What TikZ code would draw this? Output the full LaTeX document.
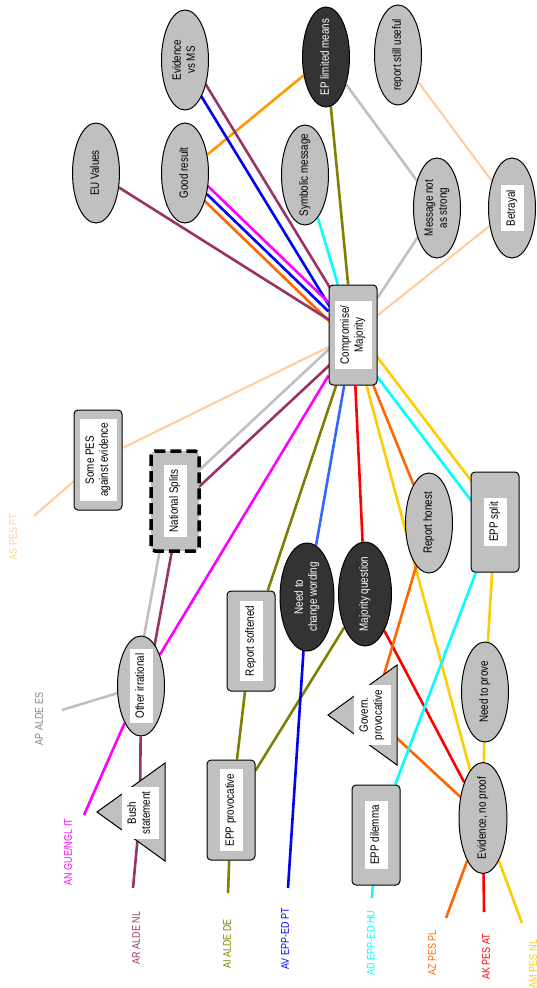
\documentclass[tikz,border=0pt]{standalone}
\usepackage{fontspec}
\setmainfont{Liberation Sans}[FakeStretch=0.82]
\usetikzlibrary{shapes.geometric, calc, backgrounds}
\definecolor{silver}{HTML}{C0C0C0}
\definecolor{dark}{HTML}{333333}
\definecolor{purp}{HTML}{993366}
\definecolor{olv}{HTML}{808000}
\definecolor{royal}{HTML}{3366FF}
\definecolor{org}{HTML}{FF6600}
\definecolor{org2}{HTML}{FF9900}
\definecolor{gold}{HTML}{FFCC00}
\definecolor{peach}{HTML}{FFCC99}
\definecolor{mag}{HTML}{FF00FF}
\definecolor{cyn}{HTML}{00FFFF}
\definecolor{blu}{HTML}{0000FF}
\definecolor{rd}{HTML}{FF0000}
\definecolor{labgray}{HTML}{808080}
\setlength{\fboxsep}{4.5pt}
\newcommand{\tx}[1]{\makebox[0pt]{\begin{tabular}{@{}c@{}}#1\end{tabular}}}
\newcommand{\wb}[1]{\makebox[0pt]{\colorbox{white}{\begin{tabular}{@{}c@{}}#1\end{tabular}}}}
\begin{document}
\begin{tikzpicture}[x=1pt, y=-1pt, font=\fontsize{12}{14}\selectfont,
  ell/.style = {draw, ellipse, fill=silver, line width=1pt, inner sep=0, rotate=90, minimum width=100, minimum height=47},
  dell/.style = {ell, fill=dark, text=white},
  box/.style = {draw, rectangle, rounded corners=4pt, fill=silver, line width=1pt, inner sep=0, rotate=90, minimum width=100, minimum height=48},
  tri/.style = {draw, fill=silver, line width=1pt},
  tritext/.style = {rotate=90, inner sep=0},
  lab/.style = {rotate=90, font=\fontsize{11}{13}\selectfont},
  link/.style = {line width=2.6pt}]
\useasboundingbox (0,0) rectangle (537,988);
\node[ell] (evms) at (185,60) {\tx{Evidence\\vs MS}};
\node[ell] (good) at (185,173) {\tx{Good result}};
\node[ell] (euv) at (96,173) {\tx{EU Values}};
\node[dell] (lim) at (326,57) {\tx{EP limited means}};
\node[ell] (use) at (398,55) {\tx{report still useful}};
\node[ell] (sym) at (305,175) {\tx{Symbolic message}};
\node[ell] (msg) at (437,208) {\tx{Message not\\as strong}};
\node[ell] (bet) at (512,208) {\wb{Betrayal}};
\node[box] (comp) at (353,335) {\wb{Compromise/\\Majority}};
\node[box] (pes) at (98,460) {\wb{Some PES\\against evidence}};
\node[box, line width=3.5pt, dash pattern=on 11pt off 5pt] (nat) at (175,501) {\wb{National Splits}};
\node[box] (soft) at (251,641) {\wb{Report softened}};
\node[ell] (oi) at (141,686) {\wb{Other irrational}};
\node[dell, minimum width=108, minimum height=54] (chg) at (307,597) {\tx{Need to\\change wording}};
\node[dell, minimum width=104, minimum height=53] (maj) at (365,594) {\tx{Majority question}};
\node[ell] (hon) at (429,523) {\tx{Report honest}};
\node[box] (split) at (495,522) {\wb{EPP split}};
\node[ell] (prove) at (485,692) {\tx{Need to prove}};
\node[ell, minimum width=111, minimum height=48] (nop) at (483,818) {\tx{Evidence, no proof}};
\node[box] (prov) at (231,810) {\wb{EPP provocative}};
\node[box] (dil) at (376,835) {\wb{EPP dilemma}};
\draw[tri] (97,812) -- (165,763) -- (165,861) -- cycle;
\node[tritext] (bush) at (140,813) {\wb{Bush\\statement}};
\draw[tri] (328,715) -- (397,665) -- (397,765) -- cycle;
\node[tritext] (gov) at (372,715) {\wb{Govern.\\provocative}};
\node[lab, text=peach] (tas) at (13,537) {AS PES PT};
\node[lab, text=labgray] (tap) at (39,719) {AP ALDE ES};
\node[lab, text=mag] (tan) at (68,852) {AN GUE/NGL IT};
\node[lab, text=purp] (tar) at (136,938) {AR ALDE NL};
\node[lab, text=olv] (tai) at (227,944) {AI ALDE DE};
\node[lab, text=blu] (tav) at (285,939) {AV EPP-ED PT};
\node[lab, text=cyn] (tad) at (371,943) {AD EPP-ED HU};
\node[lab, text=org] (taz) at (432,953) {AZ PES PL};
\node[lab, text=rd] (tak) at (486,957) {AK PES AT};
\node[lab, text=gold] (tam) at (533,964) {AM PES NL};
\coordinate (as) at (34,516);
\coordinate (ap) at (62,710);
\coordinate (an) at (84,815);
\coordinate (ar) at (133,888);
\coordinate (ai) at (228,893);
\coordinate (av) at (288,888);
\coordinate (ad) at (372,898);
\coordinate (az) at (446,918);
\coordinate (ak) at (484,912);
\coordinate (am) at (522,923);
\begin{scope}[on background layer]
\begin{scope}[link]
\draw[org2] (lim) -- (good);
\draw[silver] (lim) -- (msg) -- (comp);
\draw[olv] (lim) -- (comp);
\draw[peach, line width=2pt] (use) -- (bet) -- (comp) -- (pes) -- (as);
\draw[cyn] (sym) -- (comp);
\draw[purp] ($(evms)!5pt!90:(comp)$) -- ($(comp)!5pt!-90:(evms)$);
\draw[blu] ($(evms)!5pt!-90:(comp)$) -- ($(comp)!5pt!90:(evms)$);
\draw[mag] ($(good)!6.5pt!90:(comp)$) -- ($(comp)!6.5pt!-90:(good)$);
\draw[blu] (good) -- (comp);
\draw[org] ($(good)!6.5pt!-90:(comp)$) -- ($(comp)!6.5pt!90:(good)$);
\draw[purp] (euv) -- (comp);
\draw[silver] ($(comp)!6pt!-90:(nat)$) -- ($(nat)!6pt!90:(comp)$);
\draw[purp] ($(comp)!6pt!90:(nat)$) -- ($(nat)!6pt!-90:(comp)$);
\draw[silver] ($(nat)!6pt!-90:(oi)$) -- ($(oi)!6pt!90:(nat)$);
\draw[purp] ($(nat)!6pt!90:(oi)$) -- ($(oi)!6pt!-90:(nat)$);
\draw[silver] (oi) -- (ap);
\draw[purp] (oi) -- (bush) -- (ar);
\draw[mag] (comp) -- (oi) -- (an);
\draw[olv] (comp) -- (soft) -- (prov) -- (ai);
\draw[olv] (prov) -- (maj);
\draw[royal] (comp) -- (chg);
\draw[blu] (chg) -- (av);
\draw[rd] (comp) -- (maj) -- (nop) -- (ak);
\draw[gold] (comp) -- (nop) -- (am);
\draw[org] (comp) -- (hon) -- (gov) -- (nop) -- (az);
\draw[gold] ($(comp)!6pt!90:(split)$) -- ($(split)!6pt!-90:(comp)$);
\draw[cyn] ($(comp)!6pt!-90:(split)$) -- ($(split)!6pt!90:(comp)$);
\draw[gold] (split) -- (prove) -- (nop);
\draw[cyn] (split) -- (dil) -- (ad);
\end{scope}
\end{scope}
\end{tikzpicture}
\end{document}
